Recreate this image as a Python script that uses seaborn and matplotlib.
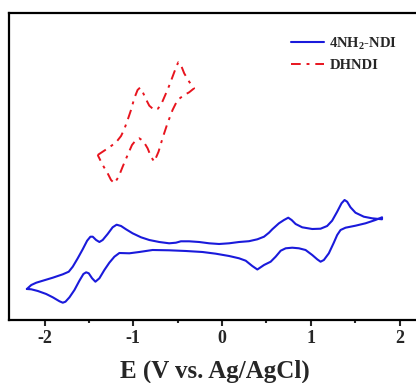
import numpy as np
import pandas as pd
import matplotlib
matplotlib.use("Agg")
import matplotlib.pyplot as plt
import seaborn as sns
from matplotlib.ticker import MultipleLocator

# 4NH2-NDI cyclic voltammogram (forward then reverse), E in V, I arbitrary
nh2_E = [-2.199, -2.149, -2.093, -2.019, -1.907, -1.794, -1.727, -1.682, -1.626, -1.570,
         -1.520, -1.483, -1.457, -1.419, -1.382, -1.345, -1.289, -1.233, -1.188, -1.138,
         -1.082, -1.008, -0.913, -0.820, -0.708, -0.596, -0.520, -0.464, -0.371, -0.258,
         -0.146, -0.034, 0.079, 0.191, 0.303, 0.397, 0.472, 0.528, 0.565, 0.640,
         0.697, 0.745, 0.783, 0.828, 0.902, 1.015, 1.109, 1.183, 1.239, 1.296,
         1.345, 1.379, 1.408, 1.446, 1.502, 1.596, 1.689, 1.801,
         1.801, 1.727, 1.615, 1.502, 1.390, 1.334, 1.296, 1.258, 1.202, 1.146,
         1.109, 1.071, 1.015, 0.940, 0.865, 0.790, 0.716, 0.660, 0.603, 0.547,
         0.472, 0.397, 0.340, 0.266, 0.191, 0.079, -0.071, -0.221, -0.408, -0.596,
         -0.783, -0.933, -1.045, -1.157, -1.213, -1.270, -1.326, -1.382, -1.427, -1.464,
         -1.502, -1.531, -1.562, -1.607, -1.663, -1.719, -1.764, -1.794, -1.831, -1.907,
         -1.981, -2.075, -2.149, -2.199]
nh2_I = [3.10, 3.50, 3.73, 3.93, 4.23, 4.57, 4.83, 5.33, 6.17, 7.07,
         7.93, 8.33, 8.33, 8.00, 7.80, 8.00, 8.60, 9.27, 9.53, 9.40,
         9.07, 8.67, 8.27, 8.00, 7.80, 7.67, 7.73, 7.87, 7.87, 7.80,
         7.67, 7.60, 7.67, 7.80, 7.88, 8.07, 8.33, 8.73, 9.07, 9.67,
         10.00, 10.23, 10.00, 9.60, 9.27, 9.10, 9.13, 9.40, 9.93, 10.83,
         11.67, 12.00, 11.83, 11.27, 10.73, 10.33, 10.17, 10.07,
         10.27, 10.00, 9.67, 9.43, 9.23, 9.00, 8.50, 7.73, 6.67, 6.00,
         5.83, 6.07, 6.50, 7.00, 7.17, 7.23, 7.17, 6.93, 6.33, 5.83,
         5.50, 5.05, 5.40, 5.93, 6.17, 6.40, 6.63, 6.80, 6.90, 6.97,
         7.00, 6.80, 6.67, 6.70, 6.33, 5.73, 5.00, 4.17, 3.83, 4.17,
         4.67, 4.77, 4.60, 3.93, 3.00, 2.27, 1.83, 1.73, 1.87, 2.27,
         2.60, 2.90, 3.07, 3.10]

# DHNDI cyclic voltammogram
dh_E = [-1.401, -1.345, -1.270, -1.194, -1.138, -1.101, -1.064, -1.026, -0.989, -0.952,
        -0.925, -0.896, -0.857, -0.820, -0.764, -0.727, -0.689, -0.640, -0.596, -0.558,
        -0.520, -0.494, -0.464, -0.427, -0.371, -0.315,
        -0.371, -0.427, -0.502, -0.558, -0.615, -0.671, -0.716, -0.764, -0.801, -0.839,
        -0.888, -0.933, -0.970, -1.015, -1.064, -1.120, -1.165, -1.213, -1.251, -1.289,
        -1.345, -1.401]
dh_I = [16.50, 16.83, 17.27, 17.77, 18.40, 19.10, 20.00, 21.00, 22.17, 23.00,
        23.23, 22.83, 22.07, 21.43, 21.00, 21.10, 21.50, 22.50, 23.43, 24.33,
        25.23, 25.77, 25.50, 24.67, 23.83, 23.17,
        22.77, 22.50, 22.00, 21.00, 19.67, 18.17, 16.83, 15.83, 16.33, 17.17,
        17.90, 18.17, 18.00, 17.50, 16.50, 15.33, 14.33, 13.67, 14.00, 14.67,
        15.50, 16.50]

x_ticks = [-2, -1, 0, 1, 2]
labels = ["4NH$_\\mathbf{2}$-NDI", "DHNDI"]

sns.set_style("white")
plt.rcParams["font.family"] = ["Liberation Serif", "DejaVu Serif"]
plt.rcParams["font.weight"] = "bold"
plt.rcParams["mathtext.fontset"] = "custom"
plt.rcParams["mathtext.rm"] = "Liberation Serif:bold"
plt.rcParams["mathtext.bf"] = "Liberation Serif:bold"

fig = plt.figure(figsize=(4.16, 3.83), dpi=100)
ax = fig.add_axes([9 / 416, 63 / 383, 412 / 416, 307 / 383])

df1 = pd.DataFrame({"E": nh2_E, "I": nh2_I})
df2 = pd.DataFrame({"E": dh_E, "I": dh_I})
sns.lineplot(data=df1, x="E", y="I", sort=False, estimator=None, color="#1a1adb",
             lw=1.5, ax=ax, label=labels[0], solid_joinstyle="round")
sns.lineplot(data=df2, x="E", y="I", sort=False, estimator=None, color="#e8141e",
             lw=1.4, ax=ax, label=labels[1], linestyle=(0, (5, 3, 1.5, 3)),
             dash_joinstyle="round")

ax.set_xlim(-2.40, 2.24)
ax.set_ylim(0, 30.7)
ax.set_xticks(x_ticks)
ax.set_xticklabels(["-2", "-1", "0", "1", "2"])
ax.xaxis.set_minor_locator(MultipleLocator(0.5))
ax.set_yticks([])
ax.tick_params(axis="x", which="major", direction="out", length=4, width=1.5,
               labelsize=13, pad=3, bottom=True)
ax.tick_params(axis="x", which="minor", direction="out", length=2.5, width=1.5, bottom=True)
for lab in ax.get_xticklabels():
    lab.set_fontweight("bold")
for s in ax.spines.values():
    s.set_linewidth(1.6)
    s.set_color("black")
ax.set_ylabel("")
ax.set_xlabel("E (V vs. Ag/AgCl)", fontsize=18, fontweight="bold", labelpad=9)

leg = ax.legend(loc="upper right", bbox_to_anchor=(0.975, 0.97), frameon=False,
                prop={"family": "Liberation Serif", "weight": "bold", "size": 10.5},
                handlelength=2.2, handletextpad=0.4, labelspacing=0.45)

fig.savefig("out.png", dpi=100)
